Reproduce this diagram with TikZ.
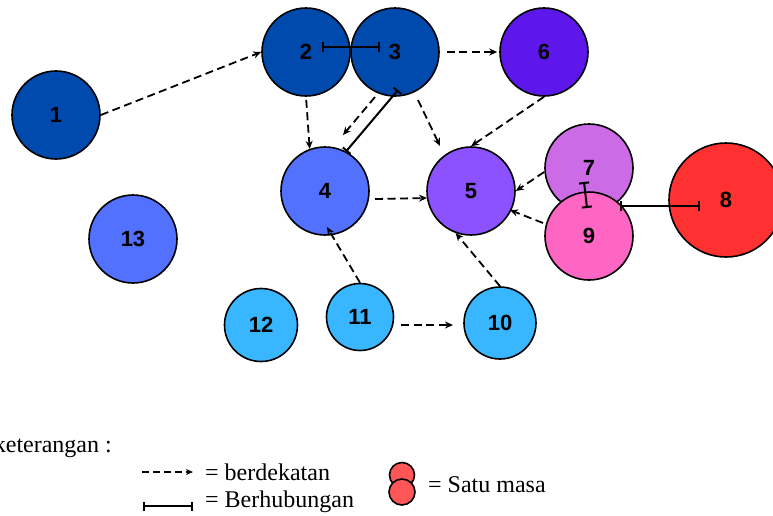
\documentclass[tikz,border=0pt]{standalone}
\usepackage{fontspec}
\setmainfont{Liberation Serif}
\newfontfamily\numfont{Liberation Sans}
\usetikzlibrary{arrows.meta,calc}
\definecolor{cdblue}{HTML}{004AAD}
\definecolor{cblue}{HTML}{5271FF}
\definecolor{cviolet}{HTML}{8C52FF}
\definecolor{cpurple}{HTML}{5E17EB}
\definecolor{corchid}{HTML}{CB6CE6}
\definecolor{cpink}{HTML}{FF66C4}
\definecolor{cred}{HTML}{FF3131}
\definecolor{csky}{HTML}{38B6FF}
\definecolor{clight}{HTML}{FF5757}
\begin{document}
\begin{tikzpicture}[x=1pt,y=-1pt,
  ball/.style={circle,draw=black,line width=1.6pt,inner sep=0pt,font=\numfont\bfseries\fontsize{22}{22}\selectfont},
  near/.style={dash pattern=on 8pt off 4.5pt,line width=1.8pt,-{Stealth[length=8pt,width=7pt]}},
  link/.style={line width=2pt,{Bar[width=10pt]}-{Bar[width=10pt]}},
  legtext/.style={font=\fontsize{24}{24}\selectfont,inner sep=0pt,anchor=base west}]
\useasboundingbox (0,0) rectangle (773,515);
% nodes
\node[ball,fill=cdblue,minimum size=88pt] (n1) at (56,115) {1};
\node[ball,fill=cdblue,minimum size=88pt] (n2) at (306,52) {2};
\node[ball,fill=cdblue,minimum size=88pt] (n3) at (395,52) {3};
\node[ball,fill=cpurple,minimum size=88pt] (n6) at (544,52) {6};
\node[ball,fill=cblue,minimum size=88pt] (n4) at (325,191) {4};
\node[ball,fill=cviolet,minimum size=88pt] (n5) at (471,191) {5};
\node[ball,fill=corchid,minimum size=88pt] (n7) at (589,168) {7};
\node[ball,fill=cpink,minimum size=88pt] (n9) at (589,236) {9};
\node[ball,fill=cred,minimum size=114pt] (n8) at (726,200) {8};
\node[ball,fill=cblue,minimum size=88pt] (n13) at (133,239) {13};
\node[ball,fill=csky,minimum size=73pt] (n12) at (261,325) {12};
\node[ball,fill=csky,minimum size=67pt] (n11) at (360,317) {11};
\node[ball,fill=csky,minimum size=72pt] (n10) at (500,323) {10};
% connectors
\draw[near] (n1.east) -- (n2.west);
\draw[link] ($(n2)+(16,-5)$) -- ($(n3)+(-15,-5)$);
\draw[near,shorten <=7pt,shorten >=2pt] (n3.east) -- (n6.west);
\draw[near,shorten <=3pt] (n2.south) -- (n4.110);
\draw[near] ($(n3)+(-20,45)$) -- ($(n4)+(18,-56)$);
\draw[link] ($(n3)+(3,38)$) -- (n4.62);
\draw[near] ($(n3)+(23,48)$) -- ($(n5)+(-31,-45)$);
\draw[near] (n6.south) -- (n5.north);
\draw[near] ($(n4)+(50,8)$) -- ($(n5)+(-44,7)$);
\draw[near] ($(n7.west)+(0,4)$) -- (n5.east);
\draw[near] ($(n9)+(-46,-13)$) -- ($(n5)+(39,19)$);
\draw[link] ($(n7)+(-5,14)$) -- ($(n9)+(-2,-28)$);
\draw[link] ($(n9)+(31,-30)$) -- ($(n8)+(-26,6)$);
\draw[near] (n11.north) -- ($(n4)+(2,36)$);
\draw[near] (n10.north) -- (n5.250);
\draw[near] ($(n11)+(41,8)$) -- ($(n10)+(-47,2)$);
% legend
\node[legtext,anchor=base east] (ket) at (112,452) {keterangan :};
\coordinate (d1) at (142,472);
\coordinate (d2) at (193,472);
\draw[line width=1.6pt,dash pattern=on 7pt off 4pt,-{Stealth[length=7pt,width=6pt]}] (d1) -- (d2);
\node[legtext] (t1) at (205,480) {= berdekatan};
\coordinate (b1) at (143,506);
\coordinate (b2) at (193,506);
\draw[line width=2pt,{Bar[width=9pt]}-{Bar[width=9pt]}] (b1) -- (b2);
\node[legtext] (t2) at (205,507) {= Berhubungan};
\node[circle,draw=black,line width=1.6pt,fill=clight,minimum size=25pt,inner sep=0pt] (c1) at (402,475) {};
\node[circle,draw=black,line width=1.6pt,fill=clight,minimum size=26pt,inner sep=0pt] (c2) at (402,492) {};
\node[legtext] (t3) at (428,492) {= Satu masa};
\end{tikzpicture}
\end{document}
